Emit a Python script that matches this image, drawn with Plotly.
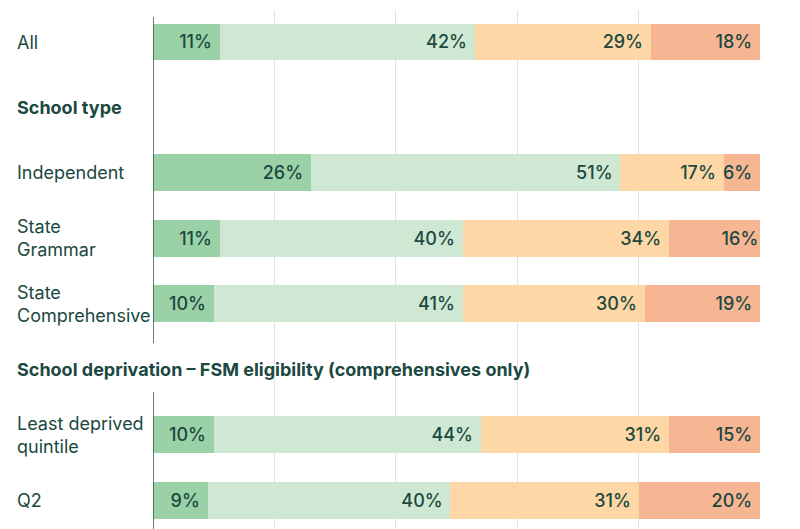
import plotly.graph_objects as go

# ---- data ----
rows = ["All", "School type", "Independent", "State Grammar", "State Comprehensive",
        "School deprivation", "Least deprived quintile", "Q2"]
row_labels = ["All", "<b>School type</b>", "Independent", "State<br>Grammar",
              "State<br>Comprehensive",
              "<b>School deprivation – FSM eligibility (comprehensives only)</b>",
              "Least deprived<br>quintile", "Q2"]
series_names = ["Strongly agree", "Agree", "Disagree", "Strongly disagree"]
s1 = [11, None, 26, 11, 10, None, 10, 9]
s2 = [42, None, 51, 40, 41, None, 44, 40]
s3 = [29, None, 17, 34, 30, None, 31, 31]
s4 = [18, None, 6, 16, 19, None, 15, 20]

colors = ["#9bd1a6", "#cfe8d3", "#fdd7a5", "#f6b693"]
text_color = "#1b4840"
axis_color = "#2c5a4e"
font_family = "Inter, Lato, 'Noto Sans', sans-serif"

fig = go.Figure()
for name, vals, col in zip(series_names, [s1, s2, s3, s4], colors):
    fig.add_trace(go.Bar(
        y=rows, x=vals, orientation="h", name=name,
        marker=dict(color=col, line=dict(width=0)),
        width=0.565,
        text=[f"{v}%\u00a0" if v is not None else "" for v in vals],
        textposition="inside", insidetextanchor="end", textangle=0,
        textfont=dict(color=text_color, size=18, family=font_family, weight=500),
        constraintext="none",
        hoverinfo="skip",
    ))

for r, lab in zip(rows, row_labels):
    fig.add_annotation(
        x=0, xref="paper", xshift=-138, y=r, yref="y",
        text=lab, showarrow=False, xanchor="left", yanchor="middle", align="left",
        font=dict(size=18, color=text_color, family=font_family),
    )

# y-axis spine (broken around the second section header)
for y0, y1 in [(0.264, 0.0), (0.9865, 0.358)]:
    fig.add_shape(type="line", xref="x", yref="paper", x0=0, x1=0, y0=y0, y1=y1,
                  line=dict(color=axis_color, width=1.5), layer="above")

fig.update_layout(
    barmode="stack",
    width=800, height=529,
    margin=dict(l=153, r=40, t=10, b=0),
    paper_bgcolor="white", plot_bgcolor="white",
    showlegend=False,
    font=dict(family=font_family, color=text_color),
    xaxis=dict(range=[0, 100], tickvals=[20, 40, 60, 80, 100], showgrid=True,
               gridcolor="#e2e2e2", gridwidth=1, showticklabels=False,
               zeroline=False, showline=False, fixedrange=True),
    yaxis=dict(type="category", categoryorder="array", categoryarray=rows,
               range=[7.443, -0.489], showticklabels=False, showgrid=False,
               zeroline=False, showline=False),
)

fig.write_html("out.html")
